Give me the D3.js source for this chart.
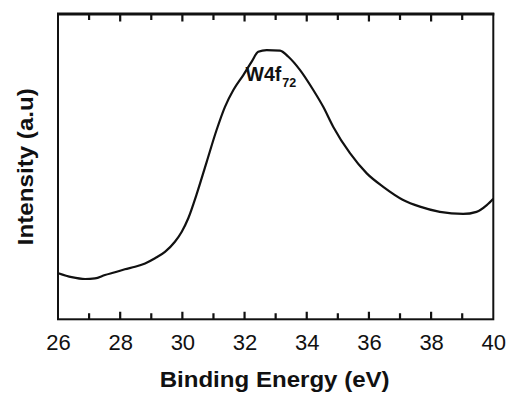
<!DOCTYPE html>
<html>
<head>
<meta charset="utf-8">
<script src="https://cdn.jsdelivr.net/npm/d3@7"></script>
<style>
  html, body { margin: 0; padding: 0; background: #fff; }
  svg { display: block; }
  text { font-family: "Liberation Sans", Arial, Helvetica, sans-serif; fill: #111; }
</style>
</head>
<body>
<svg id="chart" width="507" height="393"></svg>
<script>
// XPS W4f spectrum: binding energy (eV) vs. intensity (arbitrary units)
const energy = [26.01, 26.44, 26.87, 27.19, 27.51, 27.83, 28.15, 28.48, 28.80, 29.12,
                29.44, 29.76, 29.98, 30.19, 30.46, 30.78, 31.10, 31.37, 31.64, 31.96,
                32.23, 32.44, 32.71, 33.14, 33.41, 33.78, 34.21, 34.53, 34.85, 35.39,
                35.93, 36.46, 37.10, 37.64, 38.28, 39.03, 39.46, 39.79, 40.00];
const intensity = [15.1, 13.8, 13.2, 13.4, 14.5, 15.4, 16.4, 17.2, 18.3, 20.0,
                   22.1, 25.4, 28.7, 33.1, 41.0, 51.5, 62.0, 69.6, 75.1, 80.0,
                   84.4, 87.6, 88.2, 88.0, 86.0, 81.7, 75.1, 69.6, 63.1, 54.4,
                   47.8, 43.4, 39.1, 36.9, 35.2, 34.5, 35.2, 37.4, 39.5];
const xTicks = [26, 27, 28, 29, 30, 31, 32, 33, 34, 35, 36, 37, 38, 39, 40];
const xTickLabels = ["26", "28", "30", "32", "34", "36", "38", "40"];
const peakLabel = { main: "W4f", sub: "72" };

const svg = d3.select("#chart");
const m = { left: 58, right: 493.3, top: 14, bottom: 319.3 };

const x = d3.scaleLinear().domain([26, 40]).range([m.left, m.right]);
const y = d3.scaleLinear().domain([0, 100]).range([m.bottom, m.top]);

const isMajor = d => xTickLabels.includes(String(d));

// bottom axis: labels on even values
const bottomAxis = svg.append("g")
  .attr("transform", `translate(0,${m.bottom})`)
  .call(d3.axisBottom(x).tickValues(xTicks).tickSize(0).tickPadding(15)
        .tickFormat(d => isMajor(d) ? String(d) : ""));
bottomAxis.select(".domain").remove();
bottomAxis.selectAll(".tick line").remove();
bottomAxis.selectAll(".tick text")
  .attr("font-size", 22).attr("fill", "#111");

// frame
svg.append("rect")
  .attr("x", m.left).attr("y", m.top)
  .attr("width", m.right - m.left).attr("height", m.bottom - m.top)
  .attr("fill", "none").attr("stroke", "#111").attr("stroke-width", 2);
svg.append("line")
  .attr("x1", m.left - 1).attr("x2", m.right + 1)
  .attr("y1", m.top).attr("y2", m.top)
  .attr("stroke", "#111").attr("stroke-width", 3);

// inward ticks on top and bottom edges, one path each
const innerTicks = xTicks.filter(d => d > 26 && d < 40);
const tickPath = (edge, dir) => innerTicks
  .map(d => `M${x(d)},${edge}v${dir * (isMajor(d) ? 7.5 : 6)}`).join("");
svg.append("path")
  .attr("d", tickPath(m.bottom, -1) + tickPath(m.top, 1))
  .attr("fill", "none")
  .attr("stroke", "#111")
  .attr("stroke-width", 2.2);

// spectrum
const pts = energy.map((e, i) => [e, intensity[i]]);
svg.append("path")
  .datum(pts)
  .attr("fill", "none")
  .attr("stroke", "#111")
  .attr("stroke-width", 2.2)
  .attr("stroke-linejoin", "round")
  .attr("d", d3.line().x(d => x(d[0])).y(d => y(d[1])).curve(d3.curveMonotoneX));

// peak annotation
const lab = svg.append("text")
  .attr("x", 245.5).attr("y", 81)
  .attr("font-weight", "bold").attr("font-size", 19.5);
lab.append("tspan").text(peakLabel.main);
lab.append("tspan").attr("font-size", 12.5).attr("dx", 1).attr("dy", 5.5).text(peakLabel.sub);

// axis titles
svg.append("text")
  .attr("x", (m.left + m.right) / 2 - 1).attr("y", 387)
  .attr("text-anchor", "middle")
  .attr("font-weight", "bold").attr("font-size", 22)
  .attr("textLength", 230).attr("lengthAdjust", "spacingAndGlyphs")
  .text("Binding Energy (eV)");

svg.append("text")
  .attr("transform", `translate(32.5,${(m.top + m.bottom) / 2}) rotate(-90)`)
  .attr("text-anchor", "middle")
  .attr("font-weight", "bold").attr("font-size", 22)
  .attr("textLength", 157).attr("lengthAdjust", "spacingAndGlyphs")
  .text("Intensity (a.u)");
</script>
</body>
</html>
